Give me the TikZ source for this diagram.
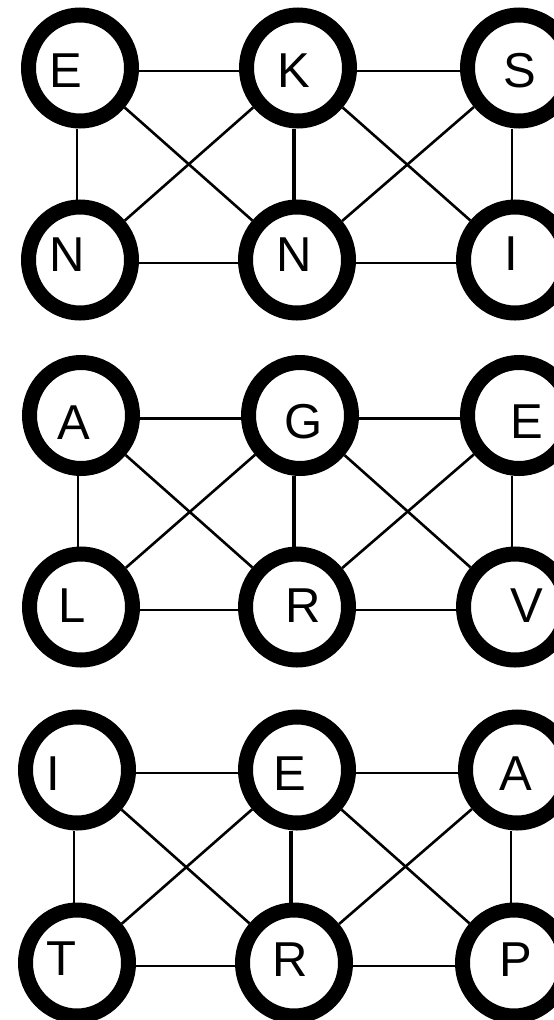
\documentclass[tikz,border=0pt]{standalone}
\usepackage{fontspec}
\setmainfont{Liberation Sans}
\usetikzlibrary{shapes.geometric}
\tikzset{
  vert/.style={draw, ellipse, line width=15pt, fill=white, minimum width=103pt, minimum height=106pt, inner sep=0pt},
  lettr/.style={font=\fontsize{49}{49}\selectfont, inner sep=0pt},
  edge/.style={line width=2.6pt},
  spine/.style={line width=4.4pt}
}
\begin{document}
\begin{tikzpicture}[x=1pt, y=-1pt]
  \useasboundingbox (0,0) rectangle (554,1020);
  % first graph
  \node[vert, label={[lettr, xshift=-14pt, yshift=-3pt]center:E}] (e1) at (80,68) {};
  \node[vert, label={[lettr, xshift=-4pt, yshift=-3pt]center:K}] (k1) at (298,68) {};
  \node[vert, label={[lettr, xshift=1pt, yshift=-3pt]center:S}] (s1) at (519,68) {};
  \node[vert, label={[lettr, xshift=-13pt, yshift=5pt]center:N}] (n1) at (80,260) {};
  \node[vert, label={[lettr, xshift=-3pt, yshift=5pt]center:N}] (n2) at (297,260) {};
  \node[vert, label={[lettr, xshift=-4pt, yshift=6pt]center:I}] (i1) at (515,260) {};
  % second graph
  \node[vert, label={[lettr, xshift=-7pt, yshift=-7pt]center:A}] (a2) at (81,415.5) {};
  \node[vert, label={[lettr, xshift=4pt, yshift=-6pt]center:G}] (g2) at (300,415.5) {};
  \node[vert, label={[lettr, xshift=8pt, yshift=-6pt]center:E}] (e2) at (519,415.5) {};
  \node[vert, label={[lettr, xshift=-9pt, yshift=1pt]center:L}] (l2) at (81,607) {};
  \node[vert, label={[lettr, xshift=6pt, yshift=1pt]center:R}] (r2) at (297,607) {};
  \node[vert, label={[lettr, xshift=12pt, yshift=1pt]center:V}] (v2) at (515,607) {};
  % third graph
  \node[vert, label={[lettr, xshift=-24pt, yshift=-4pt]center:I}] (i3) at (77,770) {};
  \node[vert, label={[lettr, xshift=-7pt, yshift=-4pt]center:E}] (e3) at (297,770) {};
  \node[vert, label={[lettr, xshift=-1pt, yshift=-4pt]center:A}] (a3) at (517,770) {};
  \node[vert, label={[lettr, xshift=-16pt, yshift=4pt]center:T}] (t3) at (77,963) {};
  \node[vert, label={[lettr, xshift=-4pt, yshift=3pt]center:R}] (r3) at (294,963) {};
  \node[vert, label={[lettr, xshift=2pt, yshift=3pt]center:P}] (p3) at (514,963) {};
  % same edges in every graph; rows and columns kept straight
  \foreach \tl/\tm/\tr/\bl/\bm/\br in {e1/k1/s1/n1/n2/i1, a2/g2/e2/l2/r2/v2, i3/e3/a3/t3/r3/p3} {
    \draw[edge] ([yshift=-3pt]\tl.east) -- ([yshift=-3pt]\tl.east -| \tm.west);
    \draw[edge] ([yshift=-3pt]\tm.east) -- ([yshift=-3pt]\tm.east -| \tr.west);
    \draw[edge] ([yshift=-3pt]\bl.east) -- ([yshift=-3pt]\bl.east -| \bm.west);
    \draw[edge] ([yshift=-3pt]\bm.east) -- ([yshift=-3pt]\bm.east -| \br.west);
    \draw[edge] ([xshift=-3pt]\bl.north) -- ([xshift=-3pt]\bl.north |- \tl.south);
    \draw[edge] ([xshift=-3pt]\br.north) -- ([xshift=-3pt]\br.north |- \tr.south);
    \draw[edge] (\tl) -- (\bm);
    \draw[edge] (\bl) -- (\tm);
    \draw[edge] (\tm) -- (\br);
    \draw[edge] (\bm) -- (\tr);
    \draw[spine] ([xshift=-3pt]\bm.north) -- ([xshift=-3pt]\bm.north |- \tm.south);
  }
\end{tikzpicture}
\end{document}
